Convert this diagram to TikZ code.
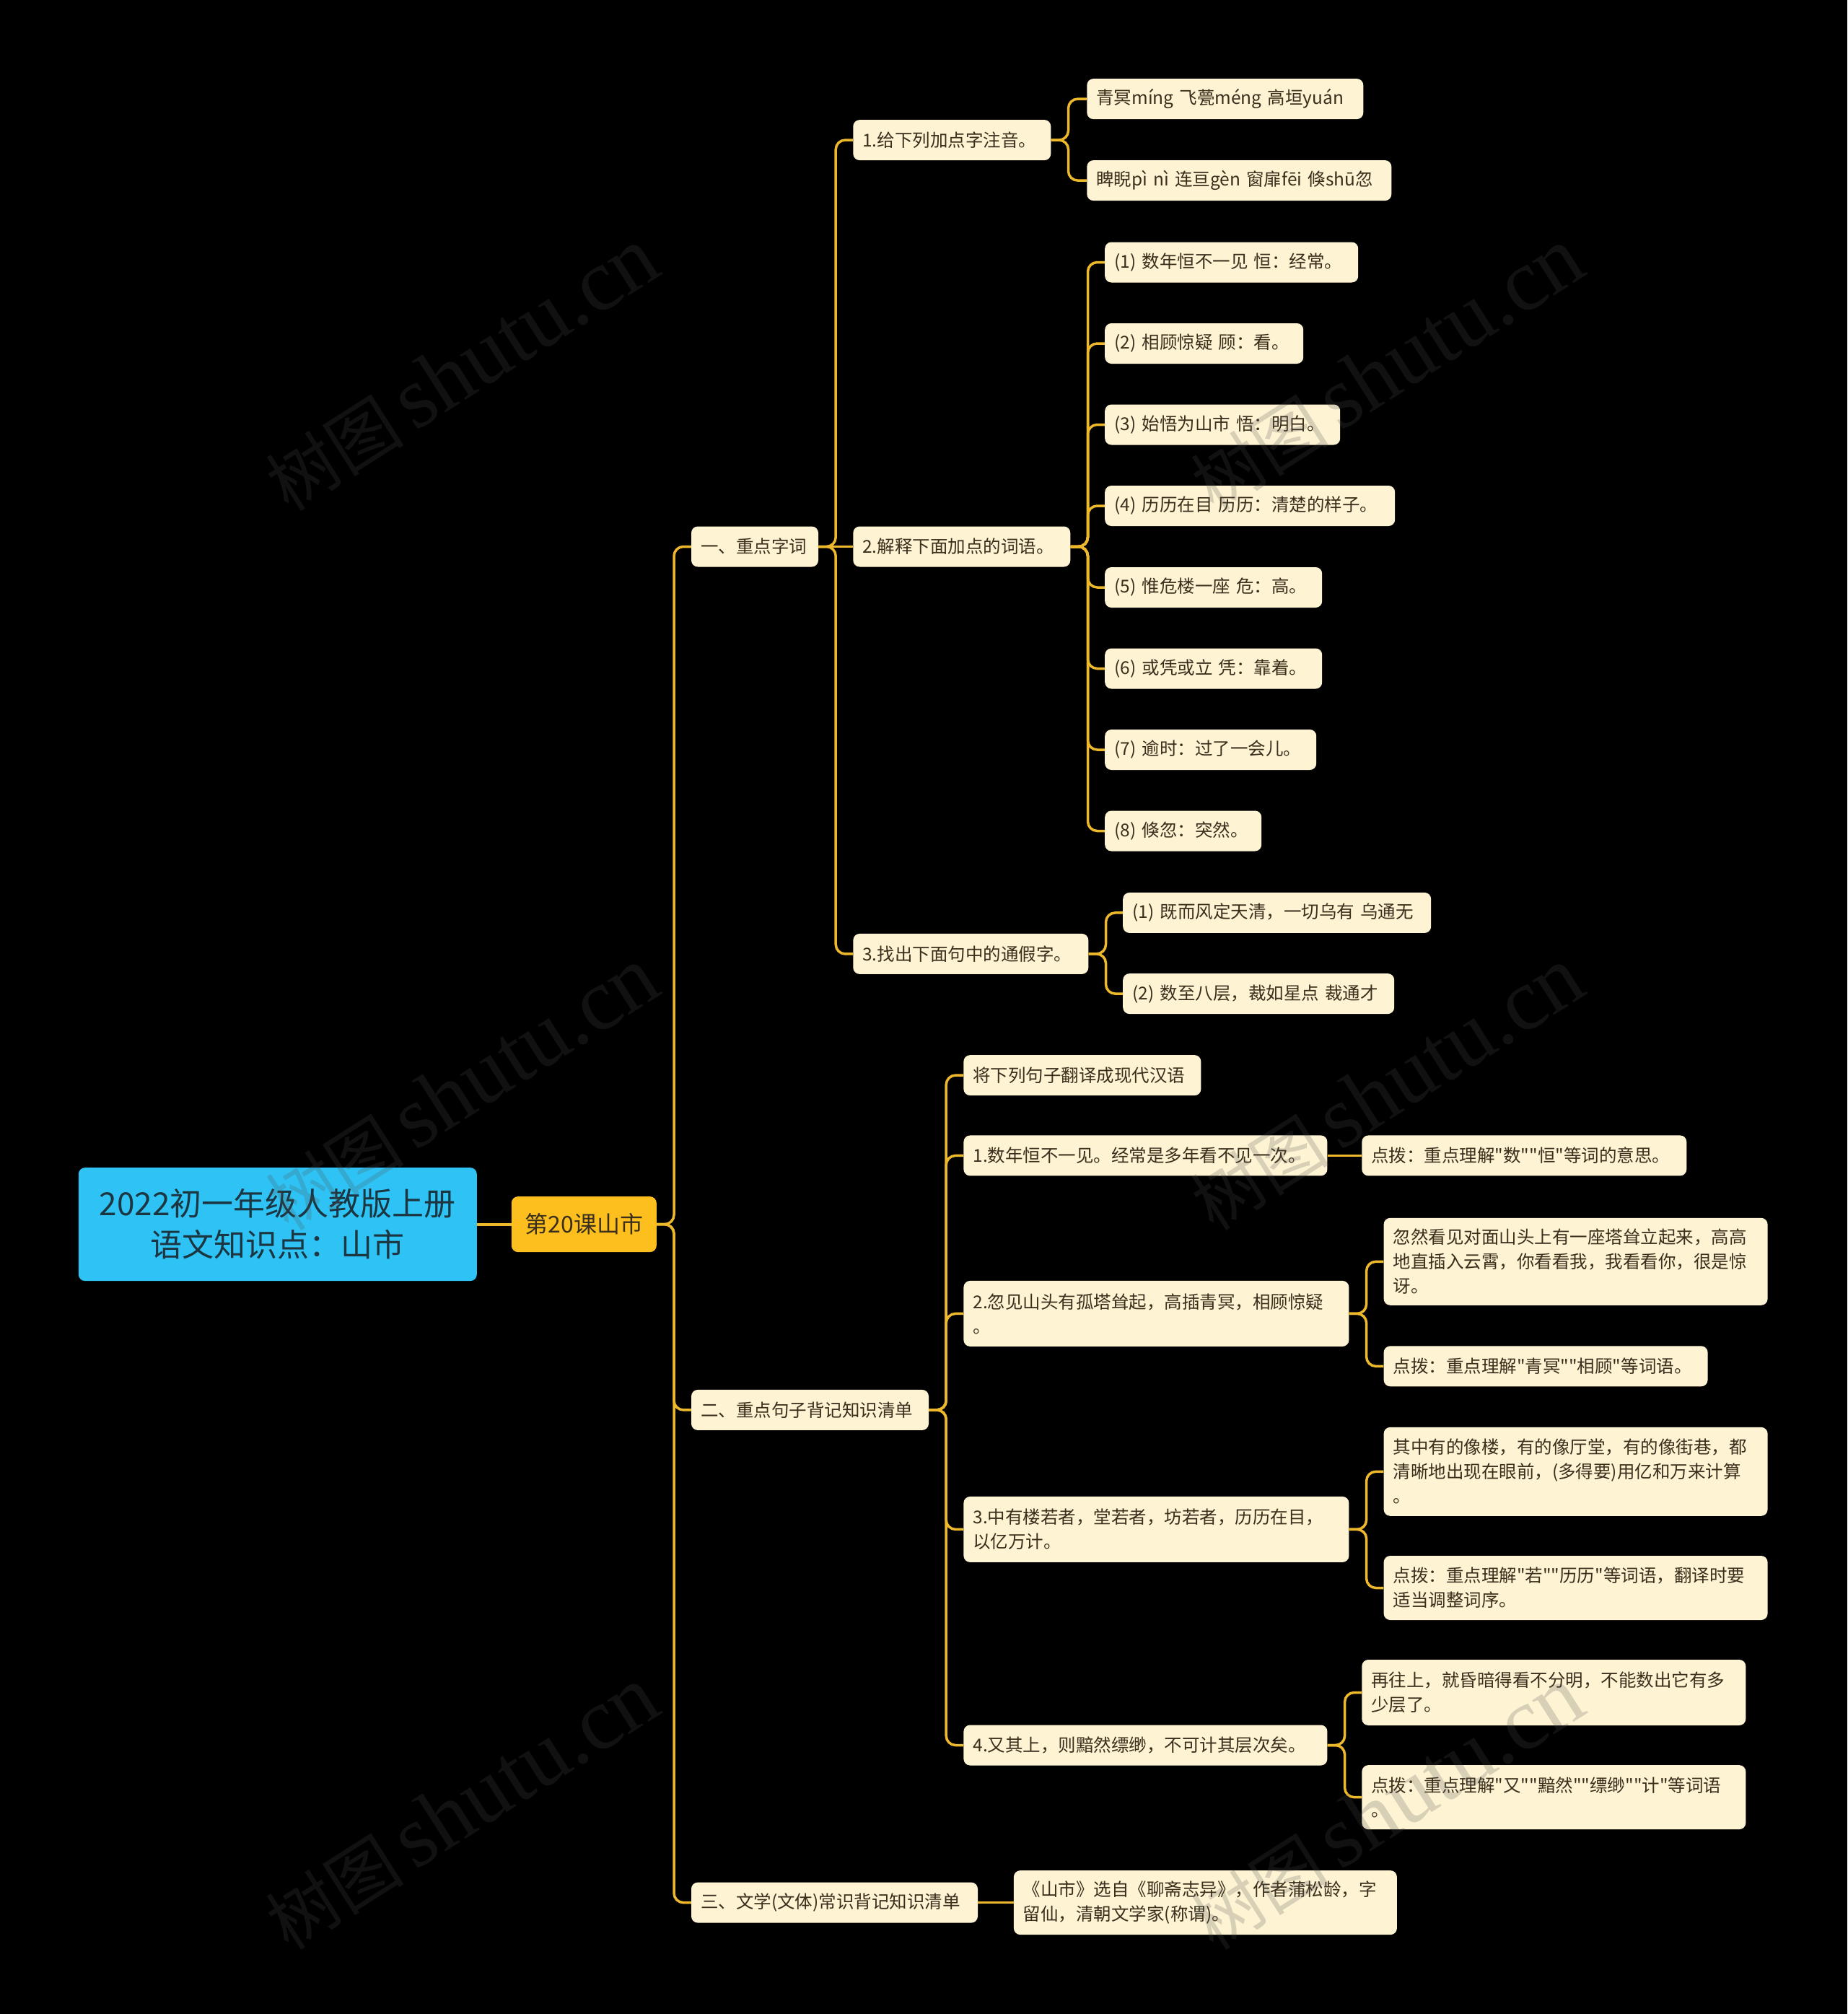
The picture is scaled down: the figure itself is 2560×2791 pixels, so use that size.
\documentclass[tikz,border=0pt]{standalone}
\usepackage{fontspec}
\newfontfamily\cjk{Noto Sans CJK SC}
\newfontfamily\wmserif{Liberation Serif}
\definecolor{cream}{HTML}{FEF3D3}
\definecolor{ink}{HTML}{3A2F1C}
\definecolor{gold}{HTML}{EDB82B}
\definecolor{rootblue}{HTML}{2EC3F4}
\definecolor{rootink}{HTML}{1C3641}
\definecolor{orangefill}{HTML}{FCBF1E}
\definecolor{wmgray}{HTML}{505050}
\newcommand\mmbranch[2]{\draw[conn] (#1.east) -- ++(24,0) |- (#2.west);}
\begin{document}
\begin{tikzpicture}[x=1pt,y=-1pt,
  box/.style={fill=cream,text=ink,rounded corners=9pt,inner xsep=13pt,inner ysep=0pt,
    minimum height=56pt,anchor=west,align=left,font=\cjk\fontsize{24.5}{34}\selectfont},
  tw/.style={text width=#1pt},
  conn/.style={draw=gold,line width=3.5pt,rounded corners=13pt},
  wm/.style={text=wmgray,text opacity=0.22,inner sep=0pt}]
\fill[black] (0,0) rectangle (2560,2791);
\useasboundingbox (0,0) rectangle (2560,2791);

% root and level 1
\node[fill=rootblue,text=rootink,rounded corners=9pt,anchor=west,align=center,
  minimum width=552pt,minimum height=157pt,inner sep=0pt,
  font=\cjk\fontsize{44}{57}\selectfont] (root) at (108.6,1696.6) {2022初一年级人教版上册\\语文知识点：山市};
\node[fill=orangefill,text=ink,rounded corners=9pt,anchor=west,align=center,
  minimum width=201pt,minimum height=77pt,inner sep=0pt,
  font=\cjk\fontsize{32}{40}\selectfont] (L1) at (708.6,1696.6) {第20课山市};

% level 2
\node[box,tw=150] (A) at (957.8,757.5) {一、重点字词};
\node[box,tw=303] (B) at (957.8,1953.9) {二、重点句子背记知识清单};
\node[box,tw=371] (C) at (957.8,2636.6) {三、文学(文体)常识背记知识清单};

% level 3 under A
\node[box,tw=248] (A1) at (1182.1,194.1) {1.给下列加点字注音。};
\node[box,tw=275] (A2) at (1182.1,757.5) {2.解释下面加点的词语。};
\node[box,tw=300] (A3) at (1182.1,1321.9) {3.找出下面句中的通假字。};

\node[box,tw=357] (A1a) at (1506.1,137.1) {青冥míng~飞甍méng~高垣yuán};
\node[box,tw=396] (A1b) at (1506.1,250.1) {睥睨pì~nì~连亘gèn~窗扉fēi~倏shū忽};

\node[box,tw=325] (A2a) at (1531,363.5) {(1)~数年恒不一见~恒：经常。};
\node[box,tw=249] (A2b) at (1531,476) {(2)~相顾惊疑~顾：看。};
\node[box,tw=300] (A2c) at (1531,588.5) {(3)~始悟为山市~悟：明白。};
\node[box,tw=376] (A2d) at (1531,701) {(4)~历历在目~历历：清楚的样子。};
\node[box,tw=275] (A2e) at (1531,814) {(5)~惟危楼一座~危：高。};
\node[box,tw=275] (A2f) at (1531,926.5) {(6)~或凭或立~凭：靠着。};
\node[box,tw=267] (A2g) at (1531,1039) {(7)~逾时：过了一会儿。};
\node[box,tw=191] (A2h) at (1531,1151.5) {(8)~倏忽：突然。};

\node[box,tw=401] (A3a) at (1556,1264.9) {(1)~既而风定天清，一切乌有~乌通无};
\node[box,tw=350] (A3b) at (1556,1377.1) {(2)~数至八层，裁如星点~裁通才};

% level 3 under B
\node[box,tw=303] (B0) at (1335.2,1490.1) {将下列句子翻译成现代汉语};
\node[box,tw=478] (B1) at (1335.2,1601.4) {1.数年恒不一见。经常是多年看不见一次。};
\node[box,tw=508,minimum height=91pt] (B2) at (1335.2,1820.4) {2.忽见山头有孤塔耸起，高插青冥，相顾惊疑\\。};
\node[box,tw=508,minimum height=91pt] (B3) at (1335.2,2119.4) {3.中有楼若者，堂若者，坊若者，历历在目，\\以亿万计。};
\node[box,tw=478] (B4) at (1335.2,2418.5) {4.又其上，则黯然缥缈，不可计其层次矣。};

\node[box,tw=424] (B1n) at (1887.1,1601.4) {点拨：重点理解"数""恒"等词的意思。};
\node[box,tw=506,minimum height=121pt] (B2a) at (1917.4,1748.3) {忽然看见对面山头上有一座塔耸立起来，高高\\地直插入云霄，你看看我，我看看你，很是惊\\讶。};
\node[box,tw=423] (B2b) at (1917.4,1893.3) {点拨：重点理解"青冥""相顾"等词语。};
\node[box,tw=506,minimum height=123pt] (B3a) at (1917.4,2039.3) {其中有的像楼，有的像厅堂，有的像街巷，都\\清晰地出现在眼前，(多得要)用亿和万来计算\\。};
\node[box,tw=506,minimum height=89pt] (B3b) at (1917.4,2200.5) {点拨：重点理解"若""历历"等词语，翻译时要\\适当调整词序。};
\node[box,tw=506,minimum height=91pt] (B4a) at (1887.1,2345.5) {再往上，就昏暗得看不分明，不能数出它有多\\少层了。};
\node[box,tw=506,minimum height=89pt] (B4b) at (1887.1,2490.6) {点拨：重点理解"又""黯然""缥缈""计"等词语\\。};

% level 3 under C
\node[box,tw=505,minimum height=89pt] (Cn) at (1404.7,2636.6) {《山市》选自《聊斋志异》，作者蒲松龄，字\\留仙，清朝文学家(称谓)。};

% connectors
\draw[conn,line width=4pt] (root.east) -- (L1.west);
\mmbranch{L1}{A}
\mmbranch{L1}{B}
\mmbranch{L1}{C}
\mmbranch{A}{A1}
\draw[conn] (A.east) -- (A2.west);
\mmbranch{A}{A3}
\mmbranch{A1}{A1a}
\mmbranch{A1}{A1b}
\foreach \c in {A2a,A2b,A2c,A2d,A2e,A2f,A2g,A2h}{\mmbranch{A2}{\c}}
\mmbranch{A3}{A3a}
\mmbranch{A3}{A3b}
\foreach \c in {B0,B1,B2,B3,B4}{\mmbranch{B}{\c}}
\draw[conn] (B1.east) -- (B1n.west);
\mmbranch{B2}{B2a}
\mmbranch{B2}{B2b}
\mmbranch{B3}{B3a}
\mmbranch{B3}{B3b}
\mmbranch{B4}{B4a}
\mmbranch{B4}{B4b}
\draw[conn] (C.east) -- (Cn.west);

% watermarks
\foreach \wx/\wy [count=\i] in {640/512,1922/512,640/1509,1922/1509,640/2506,1922/2506}{
  \node[wm,rotate=32.5] (wm\i) at (\wx,\wy) {\cjk\fontsize{96}{96}\selectfont 树图\,{\wmserif\fontsize{122}{122}\selectfont shutu.cn}};
}
\end{tikzpicture}
\end{document}
